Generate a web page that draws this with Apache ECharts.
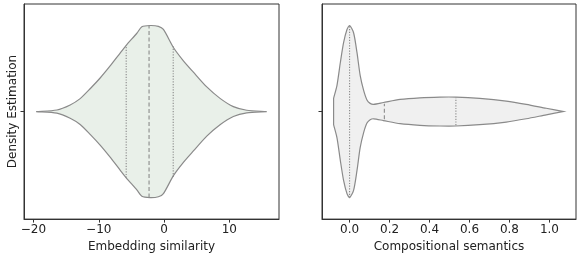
<!DOCTYPE html>
<html>
<head>
<meta charset="utf-8">
<script src="https://cdn.jsdelivr.net/npm/echarts@6/dist/echarts.min.js"></script>
<style>
html,body{margin:0;padding:0;background:#fff;}
#c{width:581px;height:258px;}
</style>
</head>
<body>
<div id="c"></div>
<script>
// Left violin: Embedding similarity (x value, relative density 0..1)
const embX = [-19.59, -16.42, -14.38, -12.85, -11.32, -9.79, -8.26, -6.73, -5.8, -4.17, -3.4, -2.14, -0.87, -0.10, 1.43, 2.96, 4.49, 6.54, 8.57, 10.61, 12.66, 15.72];
const embD = [0, 0.018, 0.077, 0.15, 0.265, 0.39, 0.53, 0.68, 0.77, 0.91, 0.985, 1.0, 0.99, 0.954, 0.745, 0.59, 0.458, 0.286, 0.153, 0.057, 0.015, 0];
const embQ = [-5.8, -2.3, 1.4];
const embQH = [0.77, 1.0, 0.76];
const embTicks = [-20, -10, 0, 10];

// Right violin: Compositional semantics
const compX = [-0.080, -0.063, -0.046, -0.030, -0.013, 0.0, 0.020, 0.037, 0.053, 0.070, 0.087, 0.103, 0.120, 0.169, 0.253, 0.352, 0.452, 0.532, 0.651, 0.784, 0.884, 0.984, 1.07];
const compD = [0.153, 0.305, 0.573, 0.80, 0.954, 1.0, 0.916, 0.687, 0.42, 0.248, 0.134, 0.095, 0.084, 0.105, 0.141, 0.160, 0.168, 0.168, 0.153, 0.122, 0.084, 0.038, 0];
const compQ = [0.0, 0.174, 0.532];
const compQH = [1.0, 0.09, 0.16];
const compTicks = [0, 0.2, 0.4, 0.6, 0.8, 1.0];

const HALF = 0.4;
const FONT = 'DejaVu Sans';
const AX = '#333';
const FS = 12;

function violinSeries(idx, xs, ds, fill) {
  return {
    type: 'custom', xAxisIndex: idx, yAxisIndex: idx,
    data: xs.map((x, i) => [x, ds[i]]),
    clip: false,
    renderItem: function (params, api) {
      if (params.dataIndex !== 0) return null;
      const pts = [];
      const n = xs.length;
      for (let i = 0; i < n; i++) {
        const p = api.coord([xs[i], ds[i] * HALF]);
        pts.push(p);
        if ((i === 0 || i === n - 1) && ds[i] > 0) pts.push(p.slice());
      }
      for (let i = n - 1; i >= 0; i--) {
        const p = api.coord([xs[i], -ds[i] * HALF]);
        if ((i === 0 || i === n - 1) && ds[i] > 0) pts.push(p.slice());
        pts.push(p);
      }
      return { type: 'polygon', shape: { points: pts, smooth: 0.25 },
        style: { fill: fill, stroke: '#8a8a8a', lineWidth: 1.2 } };
    }
  };
}
function quartSeries(idx, qs, hs) {
  return {
    type: 'custom', xAxisIndex: idx, yAxisIndex: idx,
    data: qs.map((q, i) => [q, hs[i]]),
    renderItem: function (params, api) {
      const q = api.value(0), h = api.value(1);
      const a = api.coord([q, h * HALF]), b = api.coord([q, -h * HALF]);
      const dash = params.dataIndex === 1 ? [4, 2.5] : [1.2, 1.5];
      return { type: 'line', shape: { x1: a[0], y1: a[1], x2: b[0], y2: b[1] },
        style: { stroke: '#8a8a8a', lineWidth: 1.1, lineDash: dash } };
    }
  };
}
function xAxis(idx, min, max, ticks, name, fmt) {
  return {
    type: 'value', gridIndex: idx, min: min, max: max,
    name: name, nameLocation: 'middle', nameGap: 15,
    nameTextStyle: { fontFamily: FONT, fontSize: FS, color: '#222' },
    axisLine: { show: true, onZero: false, lineStyle: { color: AX, width: 1 } },
    axisTick: { show: true, length: 3.5, customValues: ticks, lineStyle: { color: AX } },
    axisLabel: { customValues: ticks, margin: 5, fontFamily: FONT, fontSize: FS, color: '#222', formatter: fmt },
    splitLine: { show: false }
  };
}
function yAxis(idx, name) {
  return {
    type: 'value', gridIndex: idx, min: -0.5, max: 0.5, inverse: true,
    name: name, nameLocation: 'middle', nameGap: 5,
    nameTextStyle: { fontFamily: FONT, fontSize: FS, color: '#222' },
    axisLine: { show: true, onZero: false, lineStyle: { color: AX, width: 1 } },
    axisTick: { show: true, length: 3.5, customValues: [0], lineStyle: { color: AX } },
    axisLabel: { show: false },
    splitLine: { show: false }
  };
}

const chart = echarts.init(document.getElementById('c'), null, { renderer: 'canvas' });
chart.setOption({
  animation: false,
  backgroundColor: '#fff',
  grid: [
    { left: 24, top: 4, width: 255, height: 218, show: true, borderColor: AX, borderWidth: 1, backgroundColor: 'transparent' },
    { left: 322, top: 4, width: 254, height: 218, show: true, borderColor: AX, borderWidth: 1, backgroundColor: 'transparent' }
  ],
  xAxis: [
    xAxis(0, -21.45, 17.6, embTicks, 'Embedding similarity', v => (v < 0 ? '\u2212' + Math.abs(v) : String(v))),
    xAxis(1, -0.138, 1.133, compTicks, 'Compositional semantics', v => v.toFixed(1))
  ],
  yAxis: [ yAxis(0, 'Density Estimation'), yAxis(1, '') ],
  series: [
    violinSeries(0, embX, embD, '#e9f0e9'),
    quartSeries(0, embQ, embQH),
    violinSeries(1, compX, compD, '#f0f0f0'),
    quartSeries(1, compQ, compQH)
  ]
});
</script>
</body>
</html>
